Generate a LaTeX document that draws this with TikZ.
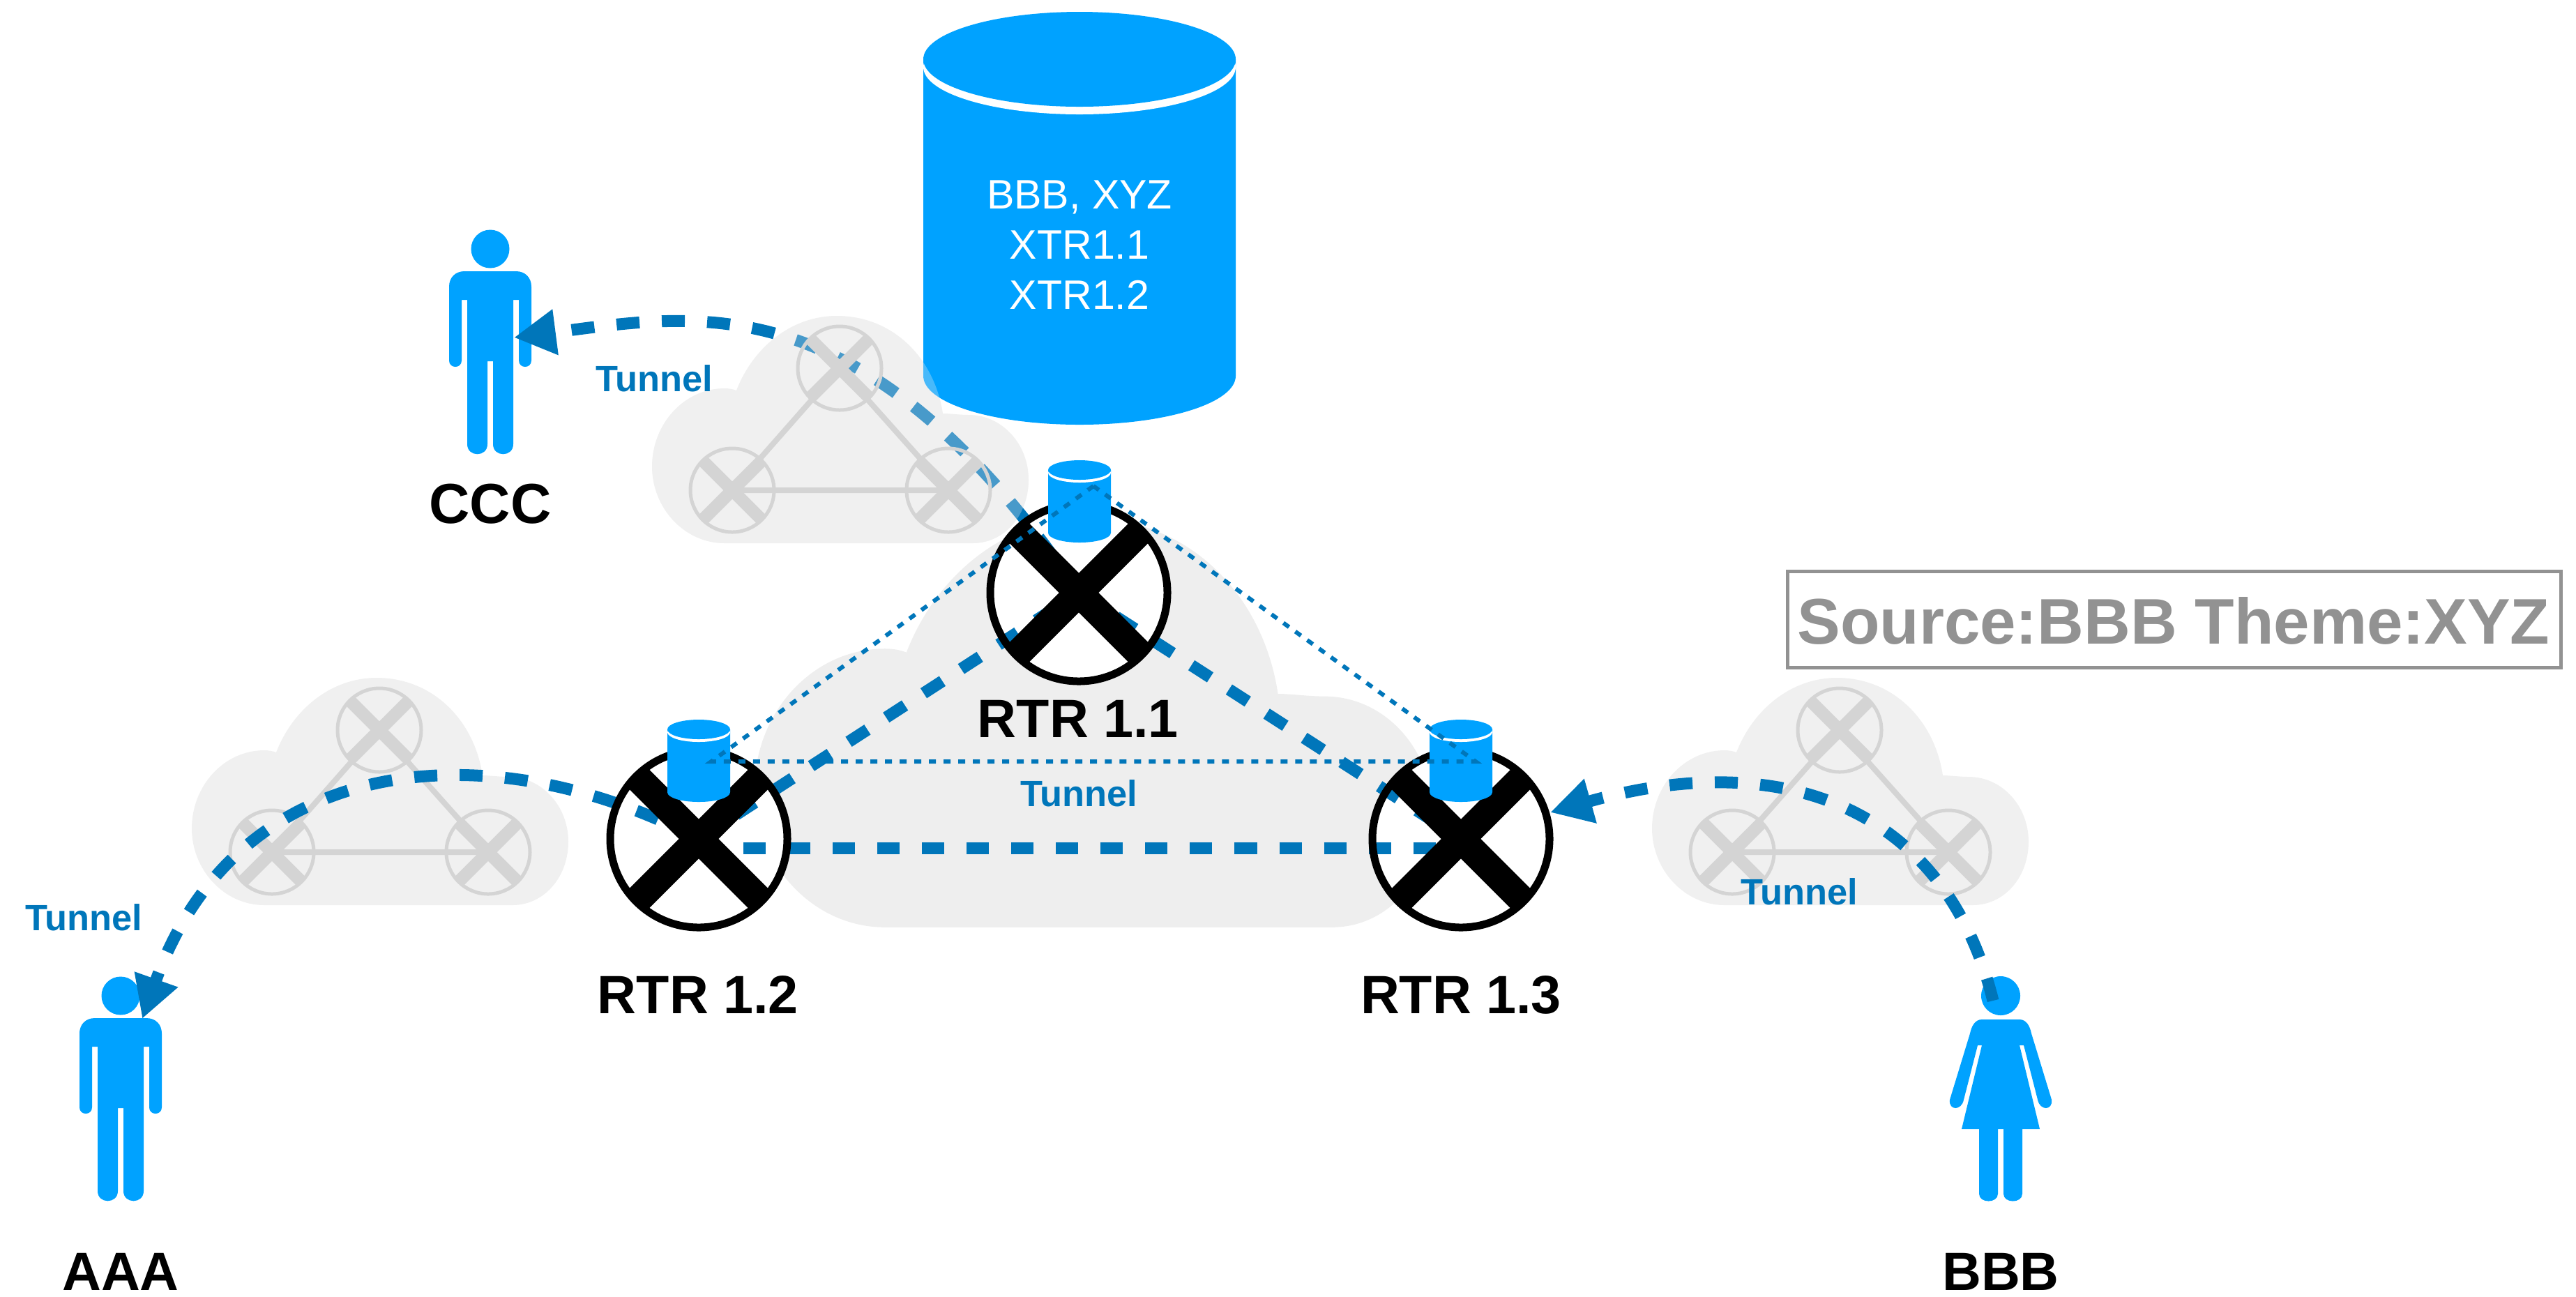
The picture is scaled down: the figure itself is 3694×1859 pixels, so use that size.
\documentclass[tikz,border=0pt]{standalone}
\usepackage{fontspec}
\setmainfont{Liberation Sans}
\usetikzlibrary{arrows.meta}
\definecolor{cylblue}{HTML}{00A2FF}
\definecolor{tunblue}{HTML}{0076BA}
\definecolor{cloudmain}{HTML}{EEEEEE}
\definecolor{cloudsmall}{HTML}{F0F0F0}
\definecolor{ghost}{HTML}{D4D4D4}
\definecolor{boxgrey}{HTML}{929292}
\tikzset{
  x=0.01cm,y=-0.01cm,
  cloudshape/.pic={
    \path[pic actions] (104,326) .. controls (46,326) and (0,275) .. (0,216)
      .. controls (0,155) and (46,104) .. (104,104)
      .. controls (110,104) and (116,105) .. (121,107)
      .. controls (145,45) and (200,0) .. (265,0)
      .. controls (345,0) and (405,60) .. (417,140)
      .. controls (428,140) and (441,142) .. (454,142)
      .. controls (502,142) and (540,184) .. (540,235)
      .. controls (540,286) and (505,326) .. (460,326) -- cycle;
  },
  ghostrouter/.pic={
    \draw[ghost,line width=0.05cm] (0,0) circle[radius=60];
    \draw[ghost,line width=0.18cm] (-42,-42) -- (42,42) (-42,42) -- (42,-42);
  },
  ghostnet/.pic={
    \draw[ghost,line width=0.08cm] (115,250) -- (425,250) -- (269,75) -- cycle;
    \pic at (115,250) {ghostrouter};
    \pic at (425,250) {ghostrouter};
    \pic at (269,75) {ghostrouter};
  },
  routertop/.pic={
    \draw[black,line width=0.11cm] (0,0) circle[radius=127];
    \draw[black,line width=0.40cm] (-87,-87) -- (87,87) (-87,87) -- (87,-87);
  },
  minicyl/.pic={
    \fill[cylblue] (-45,14) -- (45,14) -- (45,104) .. controls (45,112) and (25,118) .. (0,118) .. controls (-25,118) and (-45,112) .. (-45,104) -- cycle;
    \fill[white] (0,18) ellipse[x radius=45,y radius=14];
    \fill[cylblue] (0,14) ellipse[x radius=45,y radius=14];
  },
  manfig/.pic={
    \fill[cylblue] (0,0) circle[radius=27.5];
    \fill[cylblue] (-37,32) -- (37,32) .. controls (50,32) and (59,41) .. (59,54)
      -- (59,160) .. controls (59,172) and (41,172) .. (41,160) -- (41,73) -- (33,73)
      -- (33,280) .. controls (33,299) and (4,299) .. (4,280) -- (4,161) -- (-4,161)
      -- (-4,280) .. controls (-4,299) and (-33,299) .. (-33,280) -- (-33,73) -- (-41,73)
      -- (-41,160) .. controls (-41,172) and (-59,172) .. (-59,160) -- (-59,54)
      .. controls (-59,41) and (-50,32) .. (-37,32) -- cycle;
  },
  womanfig/.pic={
    \fill[cylblue] (0,0) circle[radius=28];
    \fill[cylblue] (-27,34) -- (27,34) .. controls (37,34) and (42,44) .. (44,54)
      -- (73,149) .. controls (75,165) and (56,165) .. (53,149) -- (33,71) -- (27,71)
      -- (56,191) -- (31,191) -- (31,284) .. controls (31,298) and (4,298) .. (4,284)
      -- (4,191) -- (-4,191) -- (-4,284) .. controls (-4,298) and (-31,298) .. (-31,284)
      -- (-31,191) -- (-56,191) -- (-27,71) -- (-33,71)
      -- (-53,149) .. controls (-56,165) and (-75,165) .. (-73,149)
      -- (-44,54) .. controls (-42,44) and (-37,34) .. (-27,34) -- cycle;
  },
  tunnelline/.style={tunblue,line width=0.17cm,dash pattern=on 0.33cm off 0.32cm},
  meshline/.style={tunblue,line width=0.17cm,dash pattern=on 0.32cm off 0.32cm},
  dotline/.style={tunblue,line width=0.06cm,dash pattern=on 0.10cm off 0.11cm},
  tiphead/.style={-{Triangle[length=0.6cm,width=0.62cm]}},
  biglabel/.style={anchor=base,inner sep=0pt,font=\fontsize{22}{26}\selectfont\bfseries,text=black},
  tunlabel/.style={anchor=base,inner sep=0pt,font=\fontsize{14.9}{18}\selectfont\bfseries,text=tunblue},
}
\begin{document}
\begin{tikzpicture}
\useasboundingbox (0,0) rectangle (3694,1859);
% named anchors
\coordinate (r1) at (1547,850);
\coordinate (r2) at (1002,1203);
\coordinate (r3) at (2095,1203);
\coordinate (h2) at (1002,1216);
\coordinate (h3) at (2095,1216);
\coordinate (aaatip) at (204,1461);
\coordinate (ccctip) at (737,484);
\coordinate (bbbstart) at (2858,1435);
\coordinate (r3tip) at (2223,1165);
\coordinate (d1) at (1568,697);
\coordinate (d2) at (1020,1092);
\coordinate (d3) at (2116,1092);
% clouds
\pic[scale=1.8,fill=cloudmain] at (1082,743) {cloudshape};
\pic[fill=cloudsmall] at (275,972) {cloudshape};
\pic at (275,972) {ghostnet};
\pic[fill=cloudsmall] at (2369,972) {cloudshape};
\pic at (2369,972) {ghostnet};
\pic[fill=cloudsmall] at (935,453) {cloudshape};
% big cylinder
\fill[cylblue] (1324,85) -- (1772,85) -- (1772,539) .. controls (1772,578) and (1672,609) .. (1548,609) .. controls (1424,609) and (1324,578) .. (1324,539) -- cycle;
\fill[white] (1548,96) ellipse[x radius=224,y radius=68];
\fill[cylblue] (1548,85) ellipse[x radius=224,y radius=68];
% router discs
\fill[white] (r1) circle[radius=127];
\fill[white] (r2) circle[radius=127];
\fill[white] (r3) circle[radius=127];
% people
\pic at (703,357) {manfig};
\pic at (173,1428) {manfig};
\pic at (2869,1428) {womanfig};
% tunnels
\draw[meshline] (r2) -- (r1);
\draw[meshline] (r1) -- (r3);
\draw[meshline] (h2) -- (h3);
\draw[tunnelline,tiphead] (r1) .. controls (1240,400) and (1000,450) .. (ccctip);
\draw[tunnelline,tiphead] (r2) .. controls (700,1045) and (340,1078) .. (aaatip);
\draw[tunnelline,tiphead] (bbbstart) .. controls (2790,1160) and (2560,1070) .. (r3tip);
% veil of the upper left cloud over tunnel and cylinder
\pic[fill=cloudsmall,opacity=0.3] at (935,453) {cloudshape};
\pic at (935,453) {ghostnet};
% routers
\pic at (r1) {routertop};
\pic at (r2) {routertop};
\pic at (r3) {routertop};
% mini cylinders
\pic at (1548,660) {minicyl};
\pic at (1002,1032) {minicyl};
\pic at (2095,1032) {minicyl};
\draw[dotline] (d1) -- (d2) -- (d3) -- cycle;
% labels
\node[anchor=center,inner sep=0pt,align=center,text=white,font=\fontsize{16.8}{20.5}\selectfont] (dbtext) at (1548,351) {BBB, XYZ\\XTR1.1\\XTR1.2};
\node[biglabel] (rtr1) at (1546,1057) {RTR 1.1};
\node[biglabel] (rtr2) at (1001,1453) {RTR 1.2};
\node[biglabel] (rtr3) at (2095,1453) {RTR 1.3};
\node[biglabel,font=\fontsize{23}{26}\selectfont\bfseries] (ccc) at (703,750) {CCC};
\node[biglabel] (aaa) at (173,1850) {AAA};
\node[biglabel] (bbb) at (2869,1850) {BBB};
\node[tunlabel] (t1) at (938,561) {Tunnel};
\node[tunlabel] (t2) at (1547,1156) {Tunnel};
\node[tunlabel] (t3) at (120,1334) {Tunnel};
\node[tunlabel] (t4) at (2580,1297) {Tunnel};
\draw[boxgrey,line width=0.05cm] (2563,819) rectangle (3672,957);
\node[anchor=base,inner sep=0pt,text=boxgrey,font=\fontsize{26.3}{30}\selectfont\bfseries] (src) at (3117,923) {Source:BBB Theme:XYZ};
\end{tikzpicture}
\end{document}
